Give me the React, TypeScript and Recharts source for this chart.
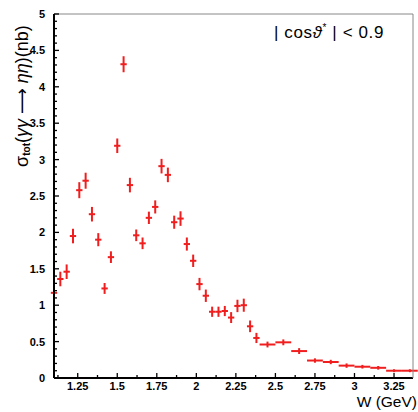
import { ScatterChart, Scatter, XAxis, YAxis, ErrorBar } from 'recharts'

// W bin centres (GeV), cross section (nb), stat. error, half bin width
const wCenter = [
  1.10, 1.14, 1.18, 1.22, 1.26, 1.30, 1.34, 1.38, 1.42, 1.46,
  1.50, 1.54, 1.58, 1.62, 1.66, 1.70, 1.74, 1.78, 1.82, 1.86,
  1.90, 1.94, 1.98, 2.02, 2.06, 2.10, 2.14, 2.18, 2.22, 2.26,
  2.30, 2.34, 2.38, 2.45, 2.55, 2.65, 2.75, 2.85, 2.95, 3.05,
  3.15, 3.25, 3.35,
]
const sigma = [
  1.17, 1.36, 1.46, 1.95, 2.58, 2.71, 2.25, 1.90, 1.23, 1.66,
  3.19, 4.31, 2.65, 1.96, 1.85, 2.20, 2.35, 2.91, 2.79, 2.14,
  2.19, 1.84, 1.61, 1.29, 1.13, 0.91, 0.91, 0.92, 0.83, 0.99,
  1.00, 0.71, 0.55, 0.46, 0.49, 0.37, 0.24, 0.22, 0.17, 0.155,
  0.14, 0.10, 0.10,
]
const sigmaErr = [
  0.14, 0.10, 0.10, 0.10, 0.11, 0.11, 0.10, 0.09, 0.075, 0.08,
  0.10, 0.11, 0.10, 0.08, 0.08, 0.085, 0.09, 0.10, 0.10, 0.09,
  0.10, 0.09, 0.085, 0.085, 0.085, 0.07, 0.07, 0.07, 0.075, 0.085,
  0.09, 0.08, 0.07, 0.04, 0.04, 0.04, 0.03, 0.03, 0.03, 0.025,
  0.025, 0.02, 0.02,
]
const wHalfWidth = [
  0.02, 0.02, 0.02, 0.02, 0.02, 0.02, 0.02, 0.02, 0.02, 0.02,
  0.02, 0.02, 0.02, 0.02, 0.02, 0.02, 0.02, 0.02, 0.02, 0.02,
  0.02, 0.02, 0.02, 0.02, 0.02, 0.02, 0.02, 0.02, 0.02, 0.02,
  0.02, 0.02, 0.02, 0.05, 0.05, 0.05, 0.05, 0.05, 0.05, 0.05,
  0.05, 0.05, 0.05,
]

const xMajorTicks = [1.25, 1.5, 1.75, 2, 2.25, 2.5, 2.75, 3, 3.25]
const xMinorTicks = [1.125, 1.375, 1.625, 1.875, 2.125, 2.375, 2.625, 2.875, 3.125]
const yMajorTicks = [0, 0.5, 1, 1.5, 2, 2.5, 3, 3.5, 4, 4.5, 5]
const yMinorTicks = Array.from({ length: 51 }, (_, i) => i / 10)

const xTicks = [...xMajorTicks, ...xMinorTicks].sort((a, b) => a - b)
const yTicks = yMinorTicks

const data = wCenter.map((w, i) => ({
  w,
  sigma: sigma[i],
  sErr: sigmaErr[i],
  wErr: wHalfWidth[i],
}))

const RED = '#f01e1e'
const FONT = '"Liberation Sans", Arial, Helvetica, sans-serif'
const isIn = (list: number[], v: number) => list.some((t) => Math.abs(t - v) < 1e-6)

const YTick = (props: any) => {
  const { x, y, payload } = props
  const v = payload.value as number
  const major = isIn(yMajorTicks, v)
  const ax = x + 9
  return (
    <g>
      <line x1={ax} x2={ax + (major ? 5 : 3)} y1={y} y2={y} stroke="#000" strokeWidth={1.3} />
      {major && (
        <text x={x} y={y} dy="0.355em" textAnchor="end" fontSize={11} fontWeight={700} fontFamily={FONT} fill="#000">
          {String(v)}
        </text>
      )}
    </g>
  )
}

const XTick = (props: any) => {
  const { x, y, payload } = props
  const v = payload.value as number
  const major = isIn(xMajorTicks, v)
  const ay = y - 4
  return (
    <g>
      <line x1={x} x2={x} y1={ay} y2={ay - (major ? 5 : 3)} stroke="#000" strokeWidth={1.3} />
      {major && (
        <text x={x} y={y} dy="0.71em" textAnchor="middle" fontSize={11} fontWeight={700} fontFamily={FONT} fill="#000">
          {String(v)}
        </text>
      )}
    </g>
  )
}

const noShape = () => <g />

export default function App() {
  return (
    <div style={{ position: 'absolute', left: 0, top: 0, width: 418, height: 412, background: '#fff' }}>
      <ScatterChart width={418} height={412} margin={{ top: 14, right: 5, bottom: 0, left: 0 }}>
        <XAxis
          xAxisId="x"
          dataKey="w"
          type="number"
          domain={[1.1, 3.37]}
          ticks={xTicks}
          interval={0}
          allowDataOverflow
          tickLine={false}
          tickSize={0}
          tickMargin={4}
          axisLine={{ stroke: '#000', strokeWidth: 2 }}
          height={34}
          tick={<XTick />}
        />
        <XAxis xAxisId="top" orientation="top" type="number" domain={[1.1, 3.37]} mirror height={1}
          tick={false} tickLine={false} axisLine={{ stroke: '#888', strokeWidth: 1 }} />
        <YAxis
          yAxisId="y"
          type="number"
          domain={[0, 5]}
          ticks={yTicks}
          interval={0}
          allowDataOverflow
          tickLine={false}
          tickSize={0}
          tickMargin={9}
          axisLine={{ stroke: '#000', strokeWidth: 2 }}
          width={54}
          tick={<YTick />}
        />
        <YAxis yAxisId="right" orientation="right" type="number" domain={[0, 5]} mirror width={1}
          tick={false} tickLine={false} axisLine={{ stroke: '#888', strokeWidth: 1 }} />
        <Scatter xAxisId="x" yAxisId="y" data={data} dataKey="sigma" shape={noShape} isAnimationActive={false}>
          <ErrorBar dataKey="sErr" direction="y" width={0} stroke={RED} strokeWidth={2} isAnimationActive={false} />
          <ErrorBar dataKey="wErr" direction="x" width={0} stroke={RED} strokeWidth={2} isAnimationActive={false} />
        </Scatter>
        <text x={274} y={38} fontSize={17} fontFamily={FONT} fill="#000" letterSpacing={0.6}>
          | cos<tspan fontStyle="italic">ϑ</tspan><tspan fontSize={10} dy={-7}>*</tspan><tspan dy={7}> | &lt; 0.9</tspan>
        </text>
        <text x={417} y={407} fontSize={15.5} fontFamily={FONT} fill="#000" textAnchor="end">
          W (GeV)
        </text>
        <text transform="translate(28,96) rotate(-90)" fontSize={18} fontFamily={FONT} fill="#000" textAnchor="middle">
          σ<tspan fontSize={10} fontWeight={700} dy={2}>tot</tspan>
          <tspan dy={-2}>(<tspan fontStyle="italic">γγ</tspan> <tspan fontFamily="DejaVu Sans">⟶</tspan> <tspan fontStyle="italic">ηη</tspan>)(nb)</tspan>
        </text>
      </ScatterChart>
    </div>
  )
}
